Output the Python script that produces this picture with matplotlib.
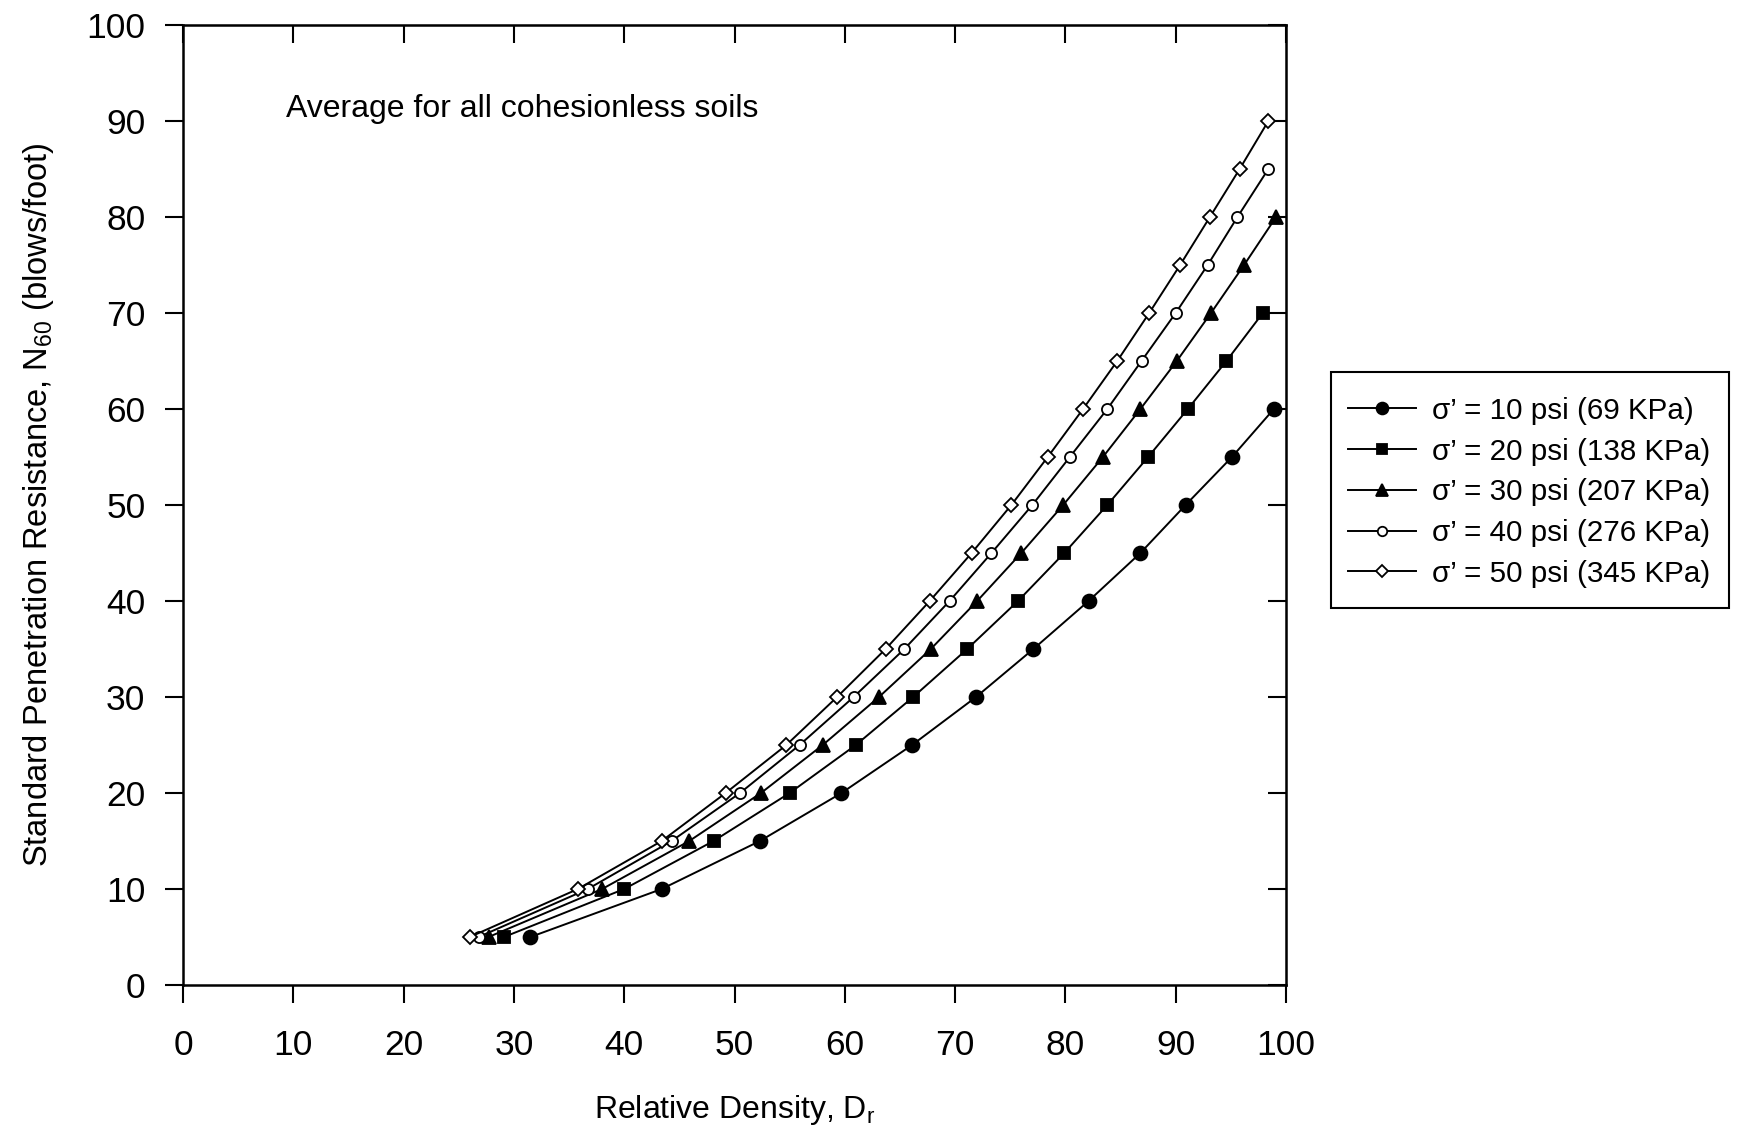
import matplotlib.pyplot as plt
from matplotlib.patches import Rectangle
import numpy as np

plt.rcParams['font.family'] = ['Liberation Sans', 'DejaVu Sans']
plt.rcParams['mathtext.default'] = 'regular'

# N60 values (blows/foot) on the y axis
n60 = [5, 10, 15, 20, 25, 30, 35, 40, 45, 50, 55, 60, 65, 70, 75, 80, 85, 90]

# relative density (%) for each overburden stress
dr_10psi = [31.5, 43.4, 52.3, 59.7, 66.1, 71.9, 77.1, 82.1, 86.8, 90.9, 95.1, 98.9]
dr_20psi = [29.1, 40.0, 48.1, 55.0, 61.0, 66.2, 71.1, 75.7, 79.9, 83.8, 87.5, 91.1,
            94.6, 97.9]
dr_30psi = [27.7, 38.0, 45.9, 52.4, 58.0, 63.1, 67.8, 72.0, 76.0, 79.8, 83.4, 86.8,
            90.1, 93.2, 96.2, 99.1]
dr_40psi = [26.8, 36.7, 44.3, 50.5, 55.9, 60.8, 65.4, 69.5, 73.3, 77.0, 80.4, 83.8,
            86.9, 90.0, 92.9, 95.6, 98.4]
dr_50psi = [26.0, 35.8, 43.4, 49.2, 54.7, 59.3, 63.7, 67.7, 71.5, 75.1, 78.4, 81.6,
            84.7, 87.6, 90.4, 93.1, 95.8, 98.4]

labels = ["σ’ = 10 psi (69 KPa)", "σ’ = 20 psi (138 KPa)", "σ’ = 30 psi (207 KPa)",
          "σ’ = 40 psi (276 KPa)", "σ’ = 50 psi (345 KPa)"]

styles = [
    dict(marker='o', markersize=10, markerfacecolor='k'),
    dict(marker='s', markersize=8.5, markerfacecolor='k'),
    dict(marker='^', markersize=10, markerfacecolor='k'),
    dict(marker='o', markersize=8, markerfacecolor='white'),
    dict(marker='D', markersize=7, markerfacecolor='white'),
]

W, H = 1741, 1133
fig = plt.figure(figsize=(W / 100, H / 100), dpi=100)
ax = fig.add_axes([183 / W, 1 - 985 / H, (1286 - 183) / W, (985 - 25) / H])

series = [dr_10psi, dr_20psi, dr_30psi, dr_40psi, dr_50psi]
for dr, lab, st in zip(series, labels, styles):
    ax.plot(dr, n60[:len(dr)], color='k', linewidth=1.4,
            markeredgecolor='k', markeredgewidth=1.3, label=lab, **st)

ax.set_xlim(0, 100)
ax.set_ylim(0, 100)
ticks = np.arange(0, 101, 10)
ax.set_xticks(ticks)
ax.set_yticks(ticks)
ax.tick_params(direction='out', length=13, width=1.5, labelsize=25.5)
ax.tick_params(axis='x', pad=19)
ax.tick_params(axis='y', pad=14)
for sp in ax.spines.values():
    sp.set_linewidth(1.8)

# inward ticks on the top and right edges
top = ax.secondary_xaxis('top')
top.set_xticks(ticks)
top.tick_params(direction='in', length=13, width=1.5, labeltop=False)
right = ax.secondary_yaxis('right')
right.set_yticks(ticks)
right.tick_params(direction='in', length=13, width=1.5, labelright=False)

ax.set_xlabel('Relative Density, D$_r$', fontsize=23, labelpad=22)
ax.set_ylabel('Standard Penetration Resistance, N$_{60}$ (blows/foot)', fontsize=23.5,
              labelpad=22)

ax.text(9.3, 91.3, 'Average for all cohesionless soils', fontsize=23, va='center',
        ha='left')

leg = ax.legend(loc='upper left', bbox_to_anchor=(1336 / W, 1 - 385 / H),
                bbox_transform=fig.transFigure, fontsize=21.3, frameon=False,
                handlelength=2.3, handletextpad=0.55, labelspacing=0.43,
                borderpad=0.4, borderaxespad=0, markerscale=0.85)

# legend box
fig.patches.append(Rectangle((1331 / W, 1 - 608 / H), (1729 - 1331) / W, (608 - 372) / H,
                             transform=fig.transFigure, fill=False, edgecolor='k',
                             linewidth=1.5))

fig.savefig('out.png', dpi=100)
